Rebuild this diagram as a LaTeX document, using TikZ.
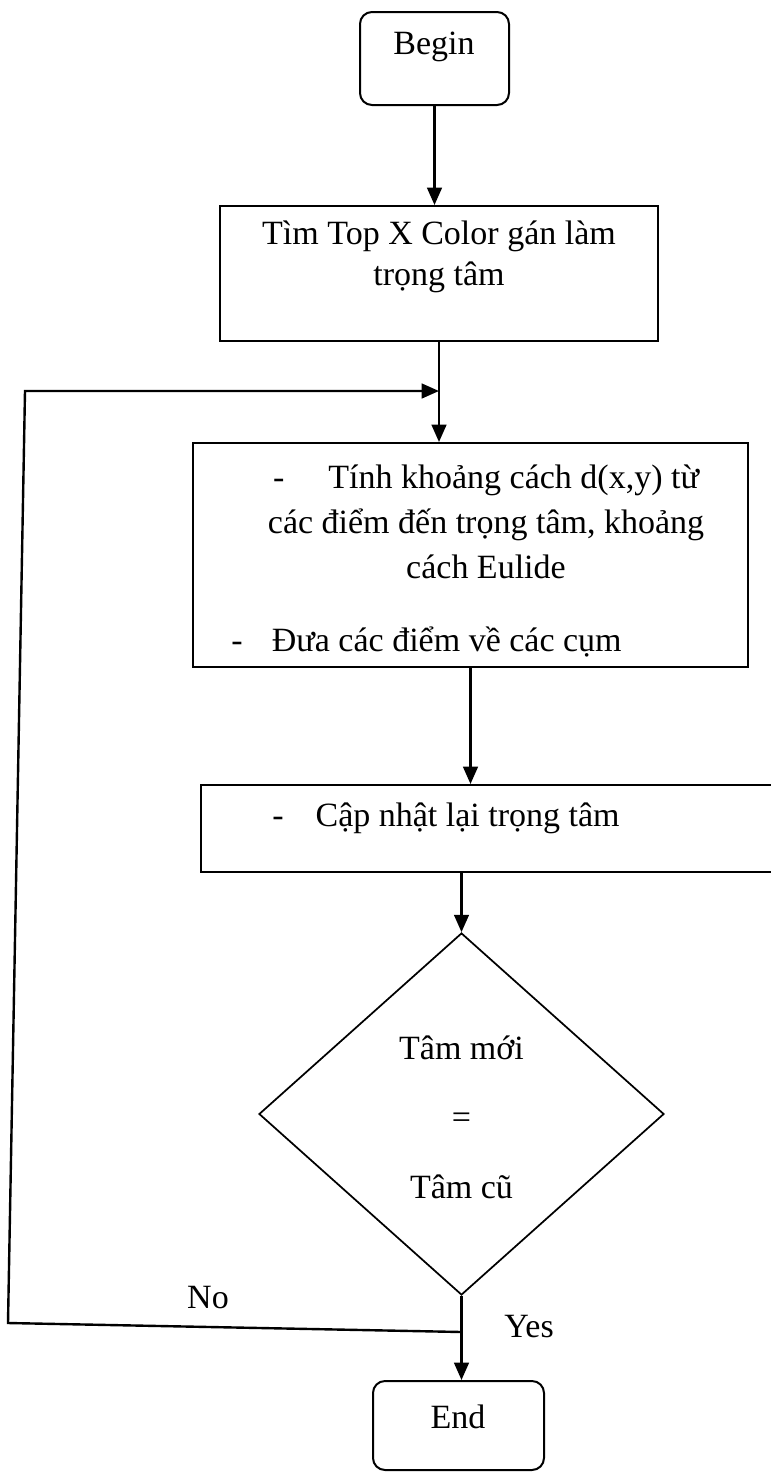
\documentclass[tikz,border=0pt]{standalone}
\usepackage{fontspec}
\setmainfont{Liberation Serif}
\usetikzlibrary{shapes.geometric, arrows.meta}

\tikzset{
  termbox/.style={draw, rectangle, rounded corners=9pt, line width=1.5pt},
  procbox/.style={draw, rectangle, line width=1.5pt},
  decision/.style={draw, diamond, line width=1.3pt, inner sep=0pt},
  flow/.style={line width=1.8pt, -{Triangle[length=13pt, width=11pt]}},
}

\begin{document}
\begin{tikzpicture}[x=0.75pt, y=-0.75pt, every node/.style={font=\fontsize{25.5pt}{31pt}\selectfont}]
  \useasboundingbox (0,0) rectangle (771,1472);
  % boxes
  \node[termbox, minimum width=111.75pt, minimum height=69.75pt] (begin) at (434.5,58.5) {};
  \node (beginText) at (434,47) {Begin};
  \node[procbox, minimum width=328.5pt, minimum height=101.25pt] (topx) at (439,273.5) {};
  \node[align=center] (topxText) at (439,257) {Tìm Top X Color gán làm\\trọng tâm};
  \node[procbox, minimum width=416.25pt, minimum height=168pt] (dist) at (470.5,555) {};
  \node[align=center, font=\fontsize{25.5pt}{34pt}\selectfont] (distText) at (486,522)
    {-\hspace{33pt}Tính khoảng cách d(x,y) từ\\các điểm đến trọng tâm, khoảng\\cách Eulide};
  \node[anchor=west, inner sep=0pt] (groupText) at (231,642) {-\hspace{22pt}Đưa các điểm về các cụm};
  \node[procbox, minimum width=449.25pt, minimum height=65.25pt] (update) at (500.5,828.5) {};
  \node[anchor=west, inner sep=0pt] (updateText) at (272,818) {-\hspace{24pt}Cập nhật lại trọng tâm};
  \node[decision, minimum width=303.75pt, minimum height=271.5pt] (check) at (461.5,1114) {};
  \node[align=center] (checkText) at (461.5,1117) {Tâm mới\\[21pt]=\\[21pt]Tâm cũ};
  \node[termbox, minimum width=128.25pt, minimum height=66.75pt] (finish) at (458.5,1425.5) {};
  \node (finishText) at (458,1417) {End};
  % labels
  \node (noLabel) at (208,1298) {No};
  \node (yesLabel) at (529,1327) {Yes};
  % arrows
  \draw[flow] (begin.south) -- (begin.south |- topx.north);
  \draw[flow] (topx.south) -- (topx.south |- dist.north);
  \draw[flow] (dist.south) -- (dist.south |- update.north);
  \draw[flow] (check.north |- update.south) -- (check.north);
  \draw[flow] (check.south) -- (check.south |- finish.north);
  % back loop
  \coordinate (loopStart) at (461.5,1332);
  \coordinate (loopCorner) at (8,1323);
  \coordinate (loopTop) at (25,391);
  \draw[flow] (loopStart) -- (loopCorner) -- (loopTop) -- (loopTop -| topx.south);
\end{tikzpicture}
\end{document}
